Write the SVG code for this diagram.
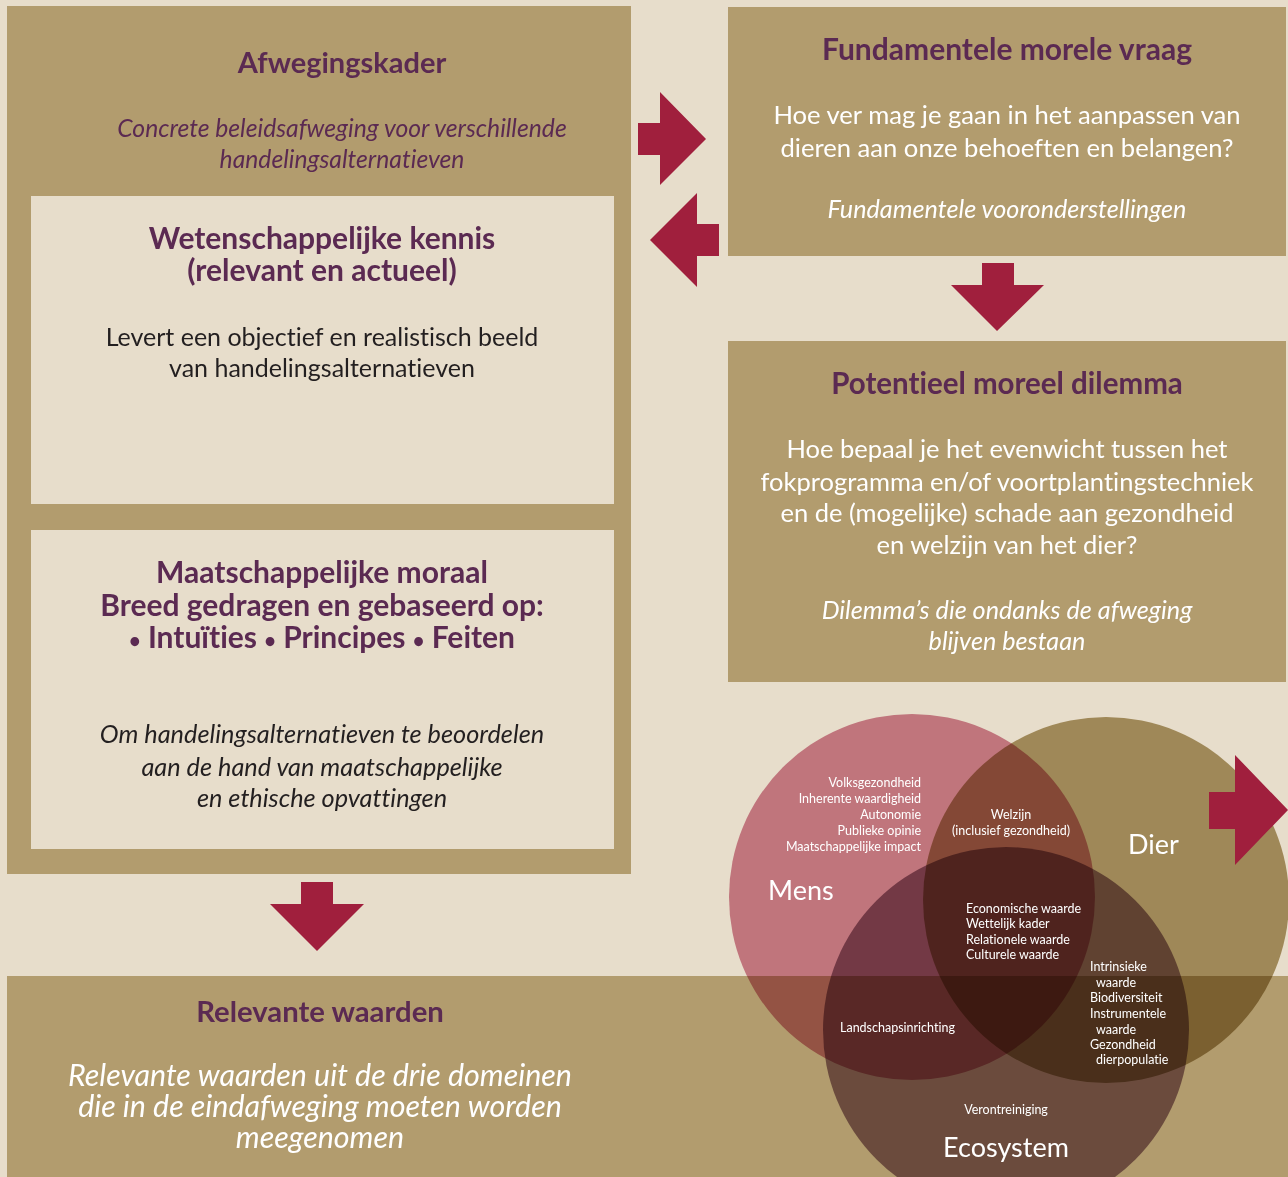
<svg xmlns="http://www.w3.org/2000/svg" width="1288" height="1177" viewBox="0 0 1288 1177">
<style>
.box{fill:#B29C6E}
.inner{fill:#E7DDCB}
.arrow{fill:#A01F3D}
text{font-variant-ligatures:none}
.t{font-family:Lato,"Open Sans","Liberation Sans",sans-serif;text-anchor:middle}
.title{font-weight:bold;font-size:30px;fill:#5B2A52}
.dark{font-size:25px;fill:#231F20}
.white{font-size:25.5px;fill:#FFFFFF}
.purple{font-size:24.7px;fill:#5B2A52}
.it{font-style:italic}
.bul{font-size:20px}
.v{font-family:Lato,"Open Sans","Liberation Sans",sans-serif;font-size:12.5px;fill:#FFFFFF}
.vb{font-family:Lato,"Open Sans","Liberation Sans",sans-serif;font-size:27px;fill:#FFFFFF}
.circ{mix-blend-mode:multiply}
</style>
<rect x="0" y="0" width="1288" height="1177" fill="#E7DDCB"/>

<g id="afwegingskader">
<rect class="box" x="7" y="6" width="624" height="868"/>
<text class="t title" x="342" y="73" style="font-size:29px">Afwegingskader</text>
<text class="t purple it" x="342" y="137">Concrete beleidsafweging voor verschillende</text>
<text class="t purple it" x="342" y="168">handelingsalternatieven</text>
</g>

<g id="wetenschappelijke-kennis">
<rect class="inner" x="31" y="196" width="583" height="308"/>
<text class="t title" x="322" y="249">Wetenschappelijke kennis</text>
<text class="t title" x="322" y="281">(relevant en actueel)</text>
<text class="t dark" x="322" y="346">Levert een objectief en realistisch beeld</text>
<text class="t dark" x="322" y="377">van handelingsalternatieven</text>
</g>

<g id="maatschappelijke-moraal">
<rect class="inner" x="31" y="530" width="583" height="319"/>
<text class="t title" x="322" y="583">Maatschappelijke moraal</text>
<text class="t title" x="322" y="616">Breed gedragen en gebaseerd op:</text>
<text class="t title" x="322" y="648"><tspan class="bul">•</tspan> Intuïties <tspan class="bul">•</tspan> Principes <tspan class="bul">•</tspan> Feiten</text>
<text class="t dark it" x="322" y="743" style="font-size:25.3px">Om handelingsalternatieven te beoordelen</text>
<text class="t dark it" x="322" y="776" style="font-size:25.3px">aan de hand van maatschappelijke</text>
<text class="t dark it" x="322" y="807" style="font-size:25.3px">en ethische opvattingen</text>
</g>

<g id="fundamentele-morele-vraag">
<rect class="box" x="728" y="7" width="558" height="249"/>
<text class="t title" x="1007" y="60">Fundamentele morele vraag</text>
<text class="t white" x="1007" y="124" style="font-size:25.6px">Hoe ver mag je gaan in het aanpassen van</text>
<text class="t white" x="1007" y="157" style="font-size:25.6px">dieren aan onze behoeften en belangen?</text>
<text class="t white it" x="1007" y="218" style="font-size:25.2px">Fundamentele vooronderstellingen</text>
</g>

<g id="potentieel-moreel-dilemma">
<rect class="box" x="728" y="341" width="558" height="341"/>
<text class="t title" x="1007" y="394" style="font-size:29.5px">Potentieel moreel dilemma</text>
<text class="t white" x="1007" y="458">Hoe bepaal je het evenwicht tussen het</text>
<text class="t white" x="1007" y="491">fokprogramma en/of voortplantingstechniek</text>
<text class="t white" x="1007" y="522">en de (mogelijke) schade aan gezondheid</text>
<text class="t white" x="1007" y="554">en welzijn van het dier?</text>
<text class="t white it" x="1007" y="619" style="font-size:25.2px">Dilemma’s die ondanks de afweging</text>
<text class="t white it" x="1007" y="650" style="font-size:25.2px">blijven bestaan</text>
</g>

<g id="relevante-waarden">
<rect class="box" x="7" y="976" width="1281" height="201"/>
<text class="t title" x="320" y="1022" style="font-size:29.3px">Relevante waarden</text>
<text class="t white it" x="320" y="1086" style="font-size:30.4px">Relevante waarden uit de drie domeinen</text>
<text class="t white it" x="320" y="1117" style="font-size:30.4px">die in de eindafweging moeten worden</text>
<text class="t white it" x="320" y="1148" style="font-size:30.4px">meegenomen</text>
</g>

<g id="venn">
<circle id="mens" class="circ" cx="912" cy="897" r="183" fill="#D4879C"/>
<circle id="dier" class="circ" cx="1106" cy="900" r="183" fill="#B09D6E"/>
<circle id="ecosystem" class="circ" cx="1006" cy="1030" r="183" fill="#997B8D"/>
<g text-anchor="end">
<text class="v" x="921" y="787">Volksgezondheid</text>
<text class="v" x="921" y="803">Inherente waardigheid</text>
<text class="v" x="921" y="819">Autonomie</text>
<text class="v" x="921" y="835">Publieke opinie</text>
<text class="v" x="921" y="851">Maatschappelijke impact</text>
</g>
<text class="v" x="1011" y="819" text-anchor="middle">Welzijn</text>
<text class="v" x="1011" y="835" text-anchor="middle">(inclusief gezondheid)</text>
<text class="vb" x="768" y="900">Mens</text>
<text class="vb" x="1128" y="854">Dier</text>
<text class="v" x="966" y="913">Economische waarde</text>
<text class="v" x="966" y="928">Wettelijk kader</text>
<text class="v" x="966" y="944">Relationele waarde</text>
<text class="v" x="966" y="959">Culturele waarde</text>
<text class="v" x="1090" y="971">Intrinsieke</text>
<text class="v" x="1096" y="987">waarde</text>
<text class="v" x="1090" y="1002">Biodiversiteit</text>
<text class="v" x="1090" y="1018">Instrumentele</text>
<text class="v" x="1096" y="1034">waarde</text>
<text class="v" x="1090" y="1049">Gezondheid</text>
<text class="v" x="1096" y="1064">dierpopulatie</text>
<text class="v" x="840" y="1032">Landschapsinrichting</text>
<text class="v" x="1006" y="1114" text-anchor="middle">Verontreiniging</text>
<text class="vb" x="1006" y="1157" text-anchor="middle">Ecosystem</text>
</g>

<g id="connectors">
<polygon class="arrow" points="638,123 660,123 660,92 706,139 660,185 660,155 638,155"/>
<polygon class="arrow" points="719,224 697,224 697,193 650,240 697,287 697,256 719,256"/>
<polygon class="arrow" points="982,263 1014,263 1014,285 1044,285 997,331 951,285 982,285"/>
<polygon class="arrow" points="301,882 333,882 333,904 364,904 317,951 270,904 301,904"/>
<polygon class="arrow" points="1209,792 1235,792 1235,755 1288,810 1235,865 1235,829 1209,829"/>
</g>
</svg>
